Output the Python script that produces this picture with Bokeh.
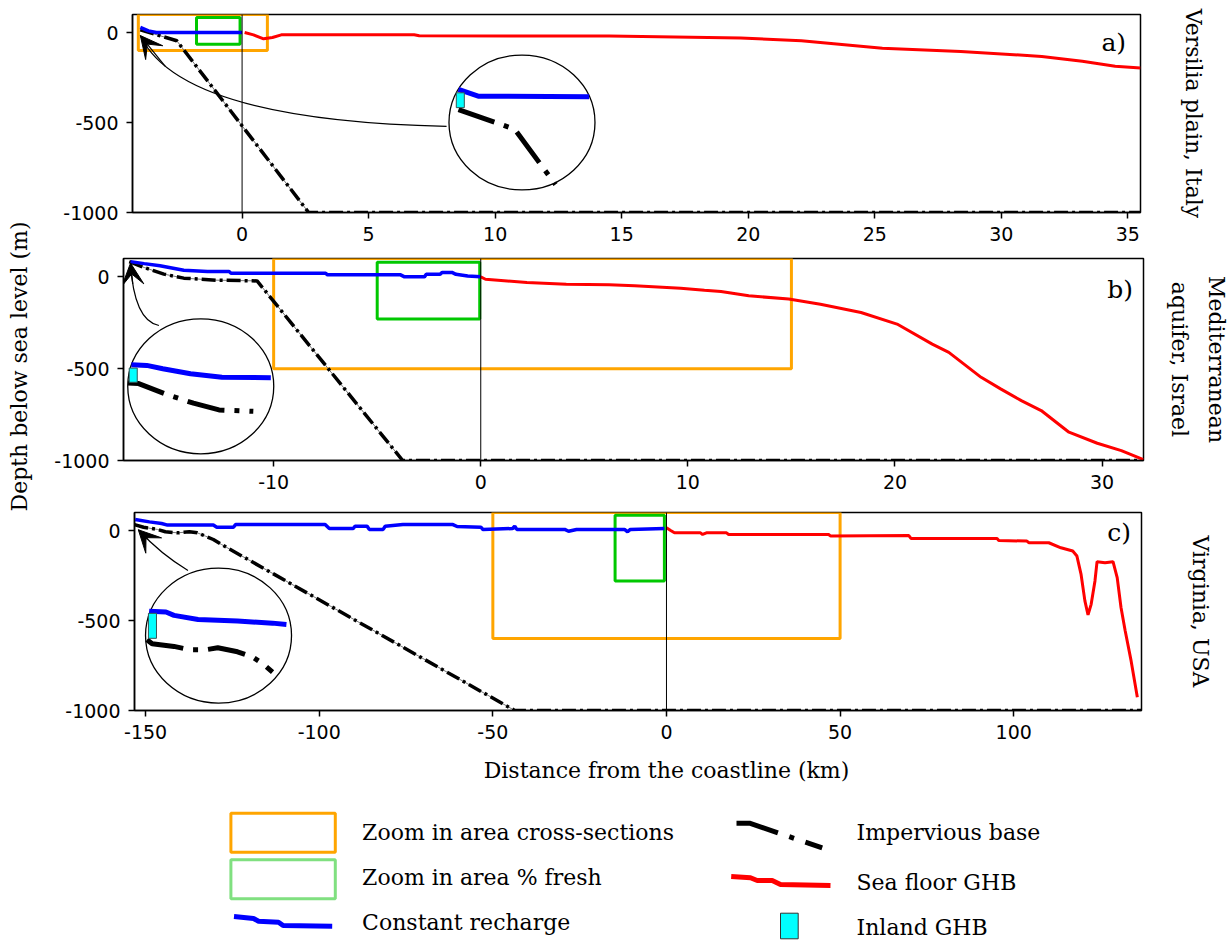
import numpy as np
from bokeh.plotting import figure
from bokeh.layouts import column, row
from bokeh.models import Range1d, FixedTicker, LinearAxis, Span, Arrow, VeeHead
from bokeh.core.properties import value
from bokeh.embed import file_html
from bokeh.resources import INLINE

SERIF = "DejaVu Serif"
SANS = "DejaVu Sans"

# ---------------- data ----------------
y_ticks = [-1000, -500, 0]
y_tick_labels = ["-1000", "-500", "0"]
y_lim = [-1000, 100]

# a) Versilia plain, Italy
a_xlim = [-4.33, 35.5]
a_xticks = [0, 5, 10, 15, 20, 25, 30, 35]
a_blue_x = [-4.02, -3.7, -3.39, 0.0]
a_blue_y = [28, 9, 0, 0]
a_red_x = [0.1, 0.45, 0.85, 1.2, 1.55, 6.8, 7.0, 14.5, 19.7, 22.1, 25.3, 28.4, 31.6, 33.2, 34.5, 35.5]
a_red_y = [0, -13, -35, -28, -13, -13, -18, -20, -31, -46, -87, -105, -133, -160, -188, -197]
a_base_x = [-4.02, -2.58, 2.63, 35.5]
a_base_y = [15, -46, -1000, -1000]
a_orange = [-4.1, 1.0, -100, 100]      # left, right, bottom, top
a_green = [-1.8, -0.08, -65, 83]
a_inset_c = [11.06, -500]
a_arrow = [8.08, -522, -2.45, -489, -4.02, -17]   # start, control, tip
a_tag = [34.93, -55, "a)"]
a_site = ["Versilia plain, Italy"]
a_in_blue_u = [-0.87, -0.60, 0.92]
a_in_blue_v = [0.49, 0.39, 0.38]
a_in_cyan = [-0.90, -0.79, 0.22, 0.44]
a_in_base_u = [-0.87, -0.10, 0.46]
a_in_base_v = [0.19, -0.10, -0.92]

# b) Mediterranean aquifer, Israel
b_xlim = [-17.25, 32.0]
b_xticks = [-10, 0, 10, 20, 30]
b_blue_x = [-16.91, -16.25, -15.49, -14.34, -13.2, -12.15, -12.06, -7.49, -7.4, -3.87, -3.68,
            -2.72, -2.63, -1.96, -1.87, -1.39, -1.2, -0.63, 0.0]
b_blue_y = [83, 72, 60, 36, 29, 29, 20, 20, 11, 11, 0, 0, 14, 14, 24, 24, 14, 5, 0]
b_red_x = [0.0, 0.23, 1.28, 2.23, 4.13, 6.2, 7.43, 9.65, 10.8, 11.6, 12.94, 14.87, 16.4, 18.36,
           20.1, 21.8, 22.6, 24.16, 25.1, 26.1, 27.06, 28.4, 29.77, 30.93, 32.0]
b_red_y = [0, -13, -22, -31, -40, -43, -49, -62, -73, -80, -103, -121, -149, -194,
           -257, -366, -411, -547, -610, -674, -728, -846, -906, -946, -995]
b_base_x = [-16.97, -16.25, -15.3, -14.34, -12.8, -10.8, -3.77, 32.0]
b_base_y = [83, 51, 15, -7, -18, -22, -1000, -1000]
b_orange = [-10, 15, -500, 100]
b_green = [-5.0, -0.05, -230, 80]
b_inset_c = [-13.52, -596]
b_arrow = [-15.54, -265, -16.75, -237, -16.91, 75]
b_tag = [31.49, -69, "b)"]
b_site = ["aquifer, Israel", "Mediterranean"]   # inner line first
b_in_blue_u = [-0.95, -0.74, -0.52, -0.14, 0.29, 0.96]
b_in_blue_v = [0.32, 0.31, 0.26, 0.185, 0.135, 0.126]
b_in_cyan = [-0.98, -0.87, 0.06, 0.27]
b_in_base_u = [-1.0, -0.85, -0.47, -0.10, 0.25, 0.72]
b_in_base_v = [0.05, 0.04, -0.12, -0.25, -0.35, -0.37]

# c) Virginia, USA
c_xlim = [-153.2, 136.8]
c_xticks = [-150, -100, -50, 0, 50, 100]
c_blue_x = [-153.0, -148.9, -145.4, -143.7, -130.5, -129.5, -124.7, -124.1, -98.3, -97.1, -90.2,
            -89.7, -86.2, -85.6, -81.6, -81.0, -75.9, -61.5, -60.3, -53.4, -52.9, -44.3, -43.7,
            -43.1, -29.3, -28.2, -25.9, -12.1, -11.2, -10.4, -0.6]
c_blue_y = [61, 48, 39, 30, 30, 18, 18, 33, 33, 11, 11, 24, 24, 6, 6, 24, 33, 33, 22, 18, 6,
            11, 24, 6, 6, -4, 6, 6, -7, 6, 11]
c_red_x = [0, 1.2, 2.3, 9.8, 10.4, 11.5, 17.3, 17.9, 46.7, 47.3, 69.8, 70.4, 95.2, 95.7, 103.8,
           104.4, 110.1, 113.6, 117.0, 118.2, 119.4, 120.5, 121.4, 122.3, 123.4, 124.0, 126.3,
           128.6, 129.8, 130.9, 132.1, 133.8, 135.6]
c_red_y = [15, 0, -13, -13, -22, -13, -13, -22, -22, -31, -28, -44, -44, -55, -59, -68, -68, -96,
           -114, -142, -244, -391, -469, -410, -280, -173, -179, -173, -262, -428, -557, -723, -926]
c_base_x = [-153.2, -150.6, -146.6, -144.3, -140.8, -137.4, -135.1, -132.8, -130.5, -128.2, -43.7, 136.8]
c_base_y = [33, 18, 6, -7, -13, -7, -13, -31, -50, -77, -1000, -1000]
c_orange = [-50, 50, -600, 100]
c_green = [-14.8, -0.6, -280, 85]
c_inset_c = [-129.0, -584]
c_arrow = [-137.8, -222, -145.6, -132, -152.1, 4]
c_tag = [133.8, -11, "c)"]
c_site = ["Virginia, USA"]
c_in_blue_u = [-0.95, -0.72, -0.61, -0.28, 0.26, 0.74, 0.93]
c_in_blue_v = [0.36, 0.35, 0.30, 0.24, 0.215, 0.185, 0.165]
c_in_cyan = [-0.96, -0.85, -0.04, 0.33]
c_in_base_u = [-0.98, -0.91, -0.61, -0.39, -0.18, -0.01, 0.26, 0.47, 0.61, 0.74]
c_in_base_v = [-0.06, -0.12, -0.16, -0.21, -0.21, -0.18, -0.24, -0.32, -0.42, -0.54]

legend_labels_left = ["Zoom in area cross-sections", "Zoom in area % fresh", "Constant recharge"]
legend_labels_right = ["Impervious base", "Sea floor GHB", "Inland GHB"]
x_label = "Distance from the coastline (km)"
y_label = "Depth below sea level (m)"

ORANGE = "#ffa500"
GREEN = "#00c800"
LGREEN = "#80e080"
BLUE = "#0000ff"
RED = "#ff0000"
CYAN = "#00ffff"

RX, RY = 73, 67.5   # inset circle half-size, screen px


def style_axis(ax):
    ax.major_tick_out = 6
    ax.major_tick_in = 0
    ax.minor_tick_line_color = None
    ax.major_label_text_font = SANS
    ax.major_label_text_font_size = "19px"
    ax.major_label_text_color = "black"
    ax.axis_line_width = 1.5
    ax.axis_line_color = "black"
    ax.major_tick_line_width = 1.5
    ax.major_tick_line_color = "black"
    ax.major_label_standoff = 8


def site_axis(text, standoff):
    return LinearAxis(ticker=FixedTicker(ticks=[]), axis_label=text,
                      axis_label_text_font=SERIF, axis_label_text_font_size="22px",
                      axis_label_text_font_style="normal", axis_label_text_color="black",
                      axis_line_color=None, major_tick_line_color=None, minor_tick_line_color=None,
                      major_label_text_font_size="0px", major_tick_out=0, major_tick_in=0,
                      major_label_standoff=0, axis_label_standoff=standoff)


def panel(xlim, xticks, fw, fh, bl, bt, bb, br, blue, red, base, orange, green, inset_c,
          in_blue, in_cyan, in_base, arrow, tag, site, site_standoffs):
    p = figure(frame_width=fw, frame_height=fh, x_range=Range1d(*xlim), y_range=Range1d(*y_lim),
               min_border_left=bl, min_border_top=bt, min_border_bottom=bb, min_border_right=br,
               output_backend="svg", toolbar_location=None)
    p.xgrid.visible = False
    p.ygrid.visible = False
    p.outline_line_color = "black"
    p.outline_line_width = 1.5
    p.outline_line_alpha = 1.0
    p.xaxis.ticker = FixedTicker(ticks=xticks)
    p.xaxis.major_label_overrides = {t: str(t) for t in xticks}
    p.yaxis.ticker = FixedTicker(ticks=y_ticks)
    p.yaxis.major_label_overrides = dict(zip(y_ticks, y_tick_labels))
    style_axis(p.xaxis[0])
    style_axis(p.yaxis[0])

    for txt, st in zip(site, site_standoffs):
        p.add_layout(site_axis(txt, st), "right")

    p.quad(left=[orange[0]], right=[orange[1]], bottom=[orange[2]], top=[orange[3]],
           fill_color=None, line_color=ORANGE, line_width=3)
    p.quad(left=[green[0]], right=[green[1]], bottom=[green[2]], top=[green[3]],
           fill_color=None, line_color=GREEN, line_width=3)

    p.add_layout(Span(location=0, dimension="height", line_color="black", line_width=1))

    p.line(base[0], base[1], line_color="#777777", line_width=1)
    p.line(base[0], base[1], line_color="black", line_width=3.5, line_dash="14 4 3 4")
    p.line(blue[0], blue[1], line_color=BLUE, line_width=3.5)
    p.line(red[0], red[1], line_color=RED, line_width=3)

    # inset circle
    pxx = fw / (xlim[1] - xlim[0])
    pxy = fh / (y_lim[1] - y_lim[0])
    cx, cy = inset_c
    sx = RX / pxx
    sy = RY / pxy
    p.ellipse(x=[cx], y=[cy], width=[2 * sx], height=[2 * sy], fill_color="white",
              line_color="black", line_width=1.3)
    bu, bv = in_blue
    p.line(cx + np.array(bu) * sx, cy + np.array(bv) * sy, line_color=BLUE, line_width=5)
    ku, kv = in_base
    p.line(cx + np.array(ku) * sx, cy + np.array(kv) * sy, line_color="black", line_width=5,
           line_dash="38 10 5 10")
    cu0, cu1, cv0, cv1 = in_cyan
    p.quad(left=[cx + cu0 * sx], right=[cx + cu1 * sx], bottom=[cy + cv0 * sy], top=[cy + cv1 * sy],
           fill_color=CYAN, line_color="#335555", line_width=1)

    # arrow from inset to the start of the section
    x0, y0, xc, yc, x1, y1 = arrow
    p.quadratic(x0=[x0], y0=[y0], x1=[x1], y1=[y1], cx=[xc], cy=[yc], line_color="black", line_width=1.2)
    t = 0.8
    xs = (1 - t) ** 2 * x0 + 2 * t * (1 - t) * xc + t * t * x1
    ys = (1 - t) ** 2 * y0 + 2 * t * (1 - t) * yc + t * t * y1
    p.add_layout(Arrow(end=VeeHead(size=22, fill_color="black", line_color="black", line_width=1),
                       x_start=xs, y_start=ys, x_end=x1, y_end=y1, line_width=1.2, line_color="black"))

    p.text(x=[tag[0]], y=[tag[1]], text=[tag[2]], text_align="right", text_baseline="middle",
           text_font=value(SERIF), text_font_size="25px", text_color="black")
    return p


# layout (page origin at 0,0): strip x 0..40, panels x 40..1232
pa = panel(a_xlim, a_xticks, 1008, 198, 92, 14, 38, 92,
           (a_blue_x, a_blue_y), (a_red_x, a_red_y), (a_base_x, a_base_y), a_orange, a_green,
           a_inset_c, (a_in_blue_u, a_in_blue_v), a_in_cyan, (a_in_base_u, a_in_base_v),
           a_arrow, a_tag, a_site, [40])
pb = panel(b_xlim, b_xticks, 1020, 202, 83, 8, 38, 89,
           (b_blue_x, b_blue_y), (b_red_x, b_red_y), (b_base_x, b_base_y), b_orange, b_green,
           b_inset_c, (b_in_blue_u, b_in_blue_v), b_in_cyan, (b_in_base_u, b_in_base_v),
           b_arrow, b_tag, b_site, [23, 9])
pc = panel(c_xlim, c_xticks, 1007, 198, 94, 14, 40, 91,
           (c_blue_x, c_blue_y), (c_red_x, c_red_y), (c_base_x, c_base_y), c_orange, c_green,
           c_inset_c, (c_in_blue_u, c_in_blue_v), c_in_cyan, (c_in_base_u, c_in_base_v),
           c_arrow, c_tag, c_site, [46])

STRIP_H = 750
strip = figure(width=40, height=STRIP_H, x_range=Range1d(0, 40), y_range=Range1d(0, STRIP_H),
               min_border=0, output_backend="svg", toolbar_location=None,
               x_axis_location=None, y_axis_location=None)
strip.outline_line_color = None
strip.xgrid.visible = False
strip.ygrid.visible = False
strip.text(x=[19], y=[STRIP_H - 366], text=[y_label], angle=np.pi / 2, text_align="center",
           text_baseline="middle", text_font=value(SERIF), text_font_size="22px", text_color="black")

# bottom area: x label + legend (local coords = page x, page y - 750; y downward)
LEG_H = 191
leg = figure(width=1232, height=LEG_H, x_range=Range1d(0, 1232), y_range=Range1d(LEG_H, 0),
             min_border=0, output_backend="svg", toolbar_location=None,
             x_axis_location=None, y_axis_location=None)
leg.outline_line_color = None
leg.xgrid.visible = False
leg.ygrid.visible = False
leg.text(x=[666], y=[20], text=[x_label], text_align="center", text_baseline="middle",
         text_font=value(SERIF), text_font_size="22px", text_color="black")
leg.quad(left=[230.4], right=[334.8], top=[62.7], bottom=[101.7], fill_color=None,
         line_color=ORANGE, line_width=3)
leg.quad(left=[230.4], right=[334.8], top=[109.3], bottom=[148.3], fill_color=None,
         line_color=LGREEN, line_width=3)
leg.line([233.5, 253, 258, 278, 282.6, 331.7], [166, 168, 170.7, 171.7, 175, 175.7],
         line_color=BLUE, line_width=5)
leg.line([736, 749, 821.7], [72.7, 72.7, 97.3], line_color="black", line_width=5,
         line_dash="43 12 5 12")
leg.line([730.7, 750, 756.7, 771.7, 780, 830], [126, 127.3, 130, 130, 134, 135],
         line_color=RED, line_width=5)
leg.quad(left=[780], right=[797.7], top=[162.7], bottom=[188.3], fill_color=CYAN,
         line_color="#333333", line_width=1)
leg.text(x=[361.6] * 3, y=[82.3, 127.3, 172.3], text=legend_labels_left, text_align="left",
         text_baseline="middle", text_font=value(SERIF), text_font_size="22px", text_color="black")
leg.text(x=[856] * 3, y=[81.7, 131.7, 176.7], text=legend_labels_right, text_align="left",
         text_baseline="middle", text_font=value(SERIF), text_font_size="22px", text_color="black")

panels = column(row(pa), row(pb), row(pc))
layout = column(row(strip, panels), leg)
open("out.html", "w").write(file_html(layout, INLINE))
